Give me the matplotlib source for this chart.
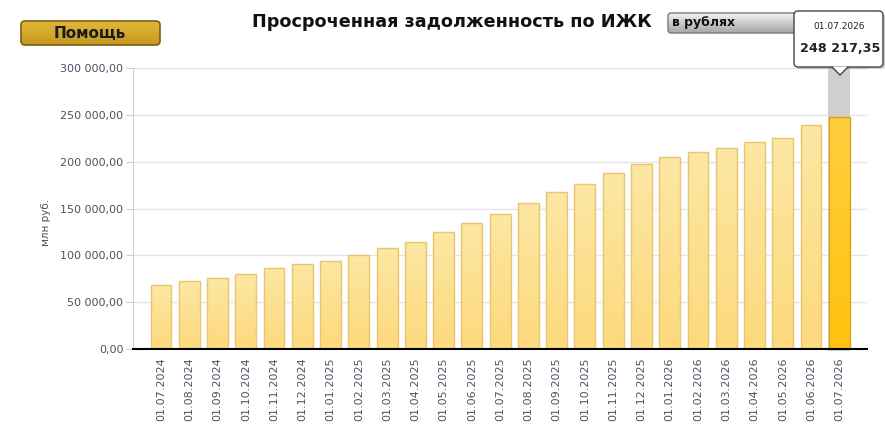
import matplotlib
matplotlib.use("Agg")
import matplotlib.pyplot as plt
import numpy as np
from matplotlib.patches import FancyBboxPatch, Polygon
from matplotlib.colors import LinearSegmentedColormap

# ---- data ----
dates = ["01.07.2024", "01.08.2024", "01.09.2024", "01.10.2024", "01.11.2024", "01.12.2024",
         "01.01.2025", "01.02.2025", "01.03.2025", "01.04.2025", "01.05.2025", "01.06.2025",
         "01.07.2025", "01.08.2025", "01.09.2025", "01.10.2025", "01.11.2025", "01.12.2025",
         "01.01.2026", "01.02.2026", "01.03.2026", "01.04.2026", "01.05.2026", "01.06.2026",
         "01.07.2026"]
values = [68300, 72300, 75500, 80400, 86100, 90400,
          94000, 100000, 107800, 113900, 124600, 134900,
          144500, 156200, 167300, 175800, 187600, 197500,
          204600, 210000, 214300, 220700, 225600, 239100,
          248217.35]
yticks = [0, 50000, 100000, 150000, 200000, 250000, 300000]

title = "Просроченная задолженность по ИЖК"
ylabel = "млн руб."
help_text = "Помощь"
unit_text = "в рублях"


def fmt(v):
    s = f"{v:,.2f}"
    ip, dp = s.split(".")
    return ip.replace(",", " ") + "," + dp


W, H = 885, 443
fig = plt.figure(figsize=(W / 100, H / 100), dpi=100)
fig.patch.set_facecolor("white")

L, R, T, B = 133, 867, 68, 349
ax = fig.add_axes([L / W, 1 - B / H, (R - L) / W, (B - T) / H])
x = np.arange(len(values))
bw = 0.74
hl = len(values) - 1

# highlight column behind last bar
ax.axvspan(x[hl] - bw / 2 - 0.02, x[hl] + bw / 2 + 0.02, ymin=-0.006, ymax=1.0,
           color="#cfcfcf", zorder=1, clip_on=False, lw=0)

colors = ["#fde39a"] * len(values)
edges = ["#e8c66e"] * len(values)
colors[hl] = "#ffc61e"
edges[hl] = "#d8a51a"
bars = ax.bar(x, values, width=bw, color=colors, edgecolor=edges, linewidth=1, zorder=3)

# vertical gradients clipped to each bar
grad = np.linspace(0, 1, 256).reshape(-1, 1)
cm_norm = LinearSegmentedColormap.from_list("n", ["#fcd97c", "#fde7a4"])
cm_hl = LinearSegmentedColormap.from_list("h", ["#ffc20e", "#ffcf3e"])
for i, b in enumerate(bars):
    x0 = b.get_x(); w = b.get_width(); h = b.get_height()
    im = ax.imshow(grad, extent=[x0, x0 + w, 0, h], origin="lower", aspect="auto",
                   cmap=cm_hl if i == hl else cm_norm, zorder=3.5)
    im.set_clip_path(b)
for b in bars:
    b.set_facecolor("none")
    b.set_zorder(4)
ax.set_xlim(-0.99, 24.98)
ax.set_ylim(0, 300000)

ax.set_yticks(yticks)
ax.set_yticklabels([fmt(v) for v in yticks])
ax.set_xticks(x)
ax.set_xticklabels(dates, rotation=90)
ax.grid(axis="y", color="#e4e4e4", lw=1, zorder=0)
ax.set_axisbelow(True)
ax.tick_params(axis="y", length=5, color="#d0d0d0", pad=2, labelsize=8, labelcolor="#4a5262")
ax.tick_params(axis="x", length=0, pad=6, labelsize=8, labelcolor="#4a5262")
for s in ["top", "right"]:
    ax.spines[s].set_visible(False)
ax.spines["left"].set_color("#d0d0d0")
ax.spines["bottom"].set_color("#000000")
ax.spines["bottom"].set_linewidth(1.5)
ax.spines["bottom"].set_zorder(5)
ax.set_ylabel(ylabel, fontsize=7.5, color="#4a5262")
ax.yaxis.set_label_coords(-0.112, 0.45)

# overlay in pixel coordinates
ov = fig.add_axes([0, 0, 1, 1], zorder=10)
ov.set_xlim(0, W); ov.set_ylim(H, 0); ov.axis("off"); ov.patch.set_alpha(0)


def grad_box(x0, y0, w, h, c_top, c_bot, ec, lw, r):
    p = FancyBboxPatch((x0, y0), w, h, boxstyle=f"round,pad=0,rounding_size={r}",
                       fc="none", ec=ec, lw=lw, zorder=3)
    ov.add_patch(p)
    cm = LinearSegmentedColormap.from_list("g", [c_top, c_bot])
    im = ov.imshow(np.linspace(0, 1, 64).reshape(-1, 1), extent=[x0, x0 + w, y0 + h, y0],
                   origin="upper", aspect="auto", cmap=cm, zorder=2)
    im.set_clip_path(p)
    return p


# help button
grad_box(21, 21, 139, 24, "#e2b838", "#c49820", "#7d5f12", 1.2, 4)
ov.text(90, 33.5, help_text, ha="center", va="center", fontsize=11, fontweight="bold",
        color="#1a1a1a", zorder=4)

# title
ov.text(452, 22, title, ha="center", va="center", fontsize=12.7, fontweight="bold", color="#111111")

# unit dropdown
grad_box(668, 13, 132, 20, "#f2f2f2", "#a6a6a6", "#7a7a7a", 1, 3)
ov.text(672, 22.5, unit_text, ha="left", va="center", fontsize=9, fontweight="bold",
        color="#111111", zorder=4)

# tooltip
sh = FancyBboxPatch((796, 13), 89, 56, boxstyle="round,pad=0,rounding_size=4",
                    fc="#00000030", ec="none", zorder=5)
ov.add_patch(sh)
tip = FancyBboxPatch((794, 11), 89, 56, boxstyle="round,pad=0,rounding_size=4",
                     fc="white", ec="#444444", lw=1, zorder=6)
ov.add_patch(tip)
ov.add_patch(Polygon([[832, 66.5], [848, 66.5], [840, 75]], closed=True, fc="white", ec="none", zorder=7))
ov.plot([832, 840, 848], [67, 75, 67], color="#444444", lw=1, zorder=8)
ov.text(839, 26, dates[hl], ha="center", va="center", fontsize=6.5, color="#222222", zorder=9)
ov.text(840, 48, fmt(values[hl]), ha="center", va="center", fontsize=9.2, fontweight="bold",
        color="#222222", zorder=9)

fig.savefig("out.png", dpi=100)
